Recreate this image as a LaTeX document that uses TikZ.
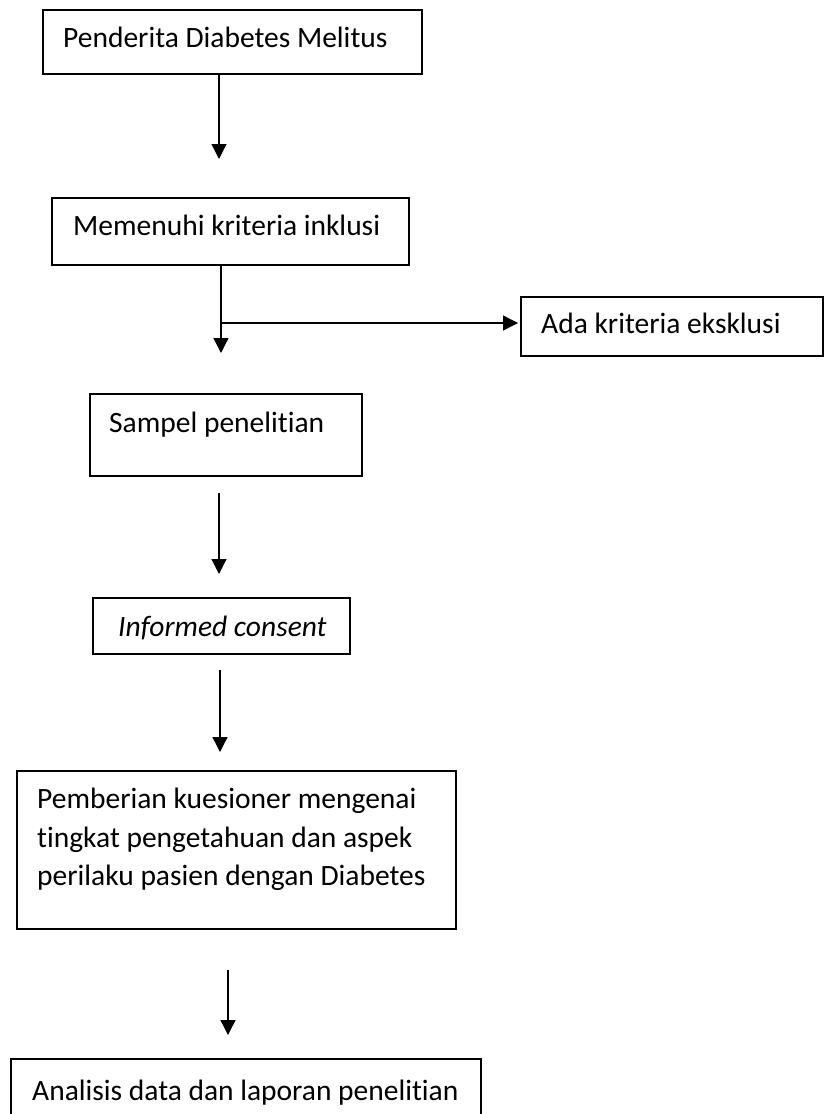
\documentclass[tikz,border=0pt]{standalone}
\usepackage{fontspec}
\setmainfont{Carlito}[Ligatures={NoCommon}]
\usetikzlibrary{arrows.meta}
\begin{document}
\begin{tikzpicture}[x=1pt,y=-1pt,
  box/.style={draw=black,line width=1.8pt,minimum width=#1,inner sep=0pt,anchor=north west},
  txt/.style={inner sep=0pt,anchor=base west,font=\fontsize{29.5}{36}\selectfont},
  arr/.style={line width=1.3pt,-{Triangle[width=15pt,length=15pt]}}]
\useasboundingbox (0,0) rectangle (824,1114);
% boxes
\node[box=379pt,minimum height=64pt] (b1) at (42,9) {};
\node[box=357pt,minimum height=67pt] (b2) at (51,197) {};
\node[box=302pt,minimum height=59pt] (b3) at (520,296) {};
\node[box=272pt,minimum height=82pt] (b4) at (89,393) {};
\node[box=257pt,minimum height=56pt] (b5) at (92,597) {};
\node[box=439pt,minimum height=158pt] (b6) at (16,770) {};
\node[box=470pt,minimum height=70pt] (b7) at (10,1058) {};
% texts
\node[txt] (t1) at (63,47) {Penderita Diabetes Melitus};
\node[txt] (t2) at (73,235) {Memenuhi kriteria inklusi};
\node[txt] (t3) at (541,333) {Ada kriteria eksklusi};
\node[txt] (t4) at (109,432) {Sampel penelitian};
\node[txt] (t5) at (118,636) {\itshape Informed consent};
\node[txt] (t6a) at (37,808) {Pemberian kuesioner mengenai};
\node[txt] (t6b) at (37,847) {tingkat pengetahuan dan aspek};
\node[txt] (t6c) at (37,885) {perilaku pasien dengan Diabetes};
\node[txt] (t7) at (32,1100) {Analisis data dan laporan penelitian};
% connector points
\coordinate (p1) at (219,159);
\coordinate (p2) at (221,353);
\coordinate (j2) at (221,323);
\coordinate (s3) at (219,493);
\coordinate (p3) at (219,574);
\coordinate (s4) at (220,670);
\coordinate (p4) at (220,752);
\coordinate (s5) at (228,970);
\coordinate (p5) at (228,1035);
% connectors
\draw[arr] (b1.south -| p1) -- (p1);
\draw[arr] (b2.south -| p2) -- (p2);
\draw[arr] (j2) -- ([xshift=-2pt]j2 -| b3.west);
\draw[arr] (s3) -- (p3);
\draw[arr] (s4) -- (p4);
\draw[arr] (s5) -- (p5);
\end{tikzpicture}
\end{document}
